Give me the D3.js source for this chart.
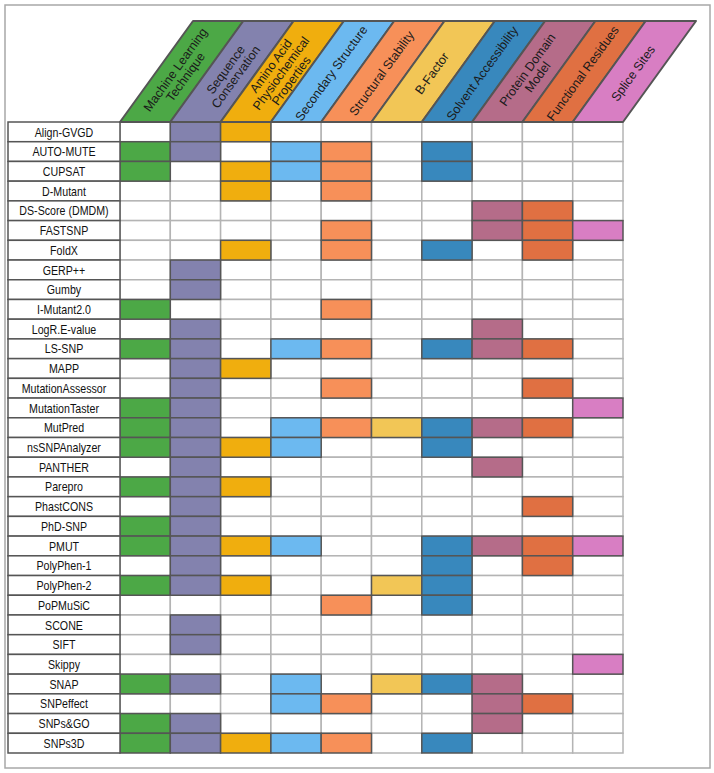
<!DOCTYPE html>
<html>
<head>
<meta charset="utf-8">
<script src="https://cdn.jsdelivr.net/npm/d3@7"></script>
<style>
  body { margin: 0; background: #fff; }
  svg text { font-family: "Liberation Sans", Arial, sans-serif; }
</style>
</head>
<body>
<div id="chart"></div>
<script>
// feature columns (header labels split in lines)
var features = ["ML", "SeqCons", "AA", "SecStruct", "StructStab", "BFactor", "SolvAcc", "Domain", "FuncRes", "Splice"];
var featureLabels = [
    ["Machine Learning", "Technique"],
    ["Sequence", "Conservation"],
    ["Amino Acid", "Physiochemical", "Properties"],
    ["Secondary Structure"],
    ["Structural Stability"],
    ["B-Factor"],
    ["Solvent Accessibility"],
    ["Protein Domain", "Model"],
    ["Functional Residues"],
    ["Splice Sites"]
];
var featureColors = ["#4ca846", "#8382ae", "#f0ae0e", "#6cb9f0", "#f79059", "#f2c656", "#3888bd", "#b56c89", "#e07042", "#d87ec3"];

var tools = ["Align-GVGD", "AUTO-MUTE", "CUPSAT", "D-Mutant", "DS-Score (DMDM)", "FASTSNP", "FoldX",
    "GERP++", "Gumby", "I-Mutant2.0", "LogR.E-value", "LS-SNP", "MAPP", "MutationAssessor",
    "MutationTaster", "MutPred", "nsSNPAnalyzer", "PANTHER", "Parepro", "PhastCONS", "PhD-SNP",
    "PMUT", "PolyPhen-1", "PolyPhen-2", "PoPMuSiC", "SCONE", "SIFT", "Skippy", "SNAP",
    "SNPeffect", "SNPs&GO", "SNPs3D"];

// which feature columns each tool uses (index into features)
var toolFeatures = [
    [1, 2],
    [0, 1, 3, 4, 6],
    [0, 2, 3, 4, 6],
    [2, 4],
    [7, 8],
    [4, 7, 8, 9],
    [2, 4, 6, 8],
    [1],
    [1],
    [0, 4],
    [1, 7],
    [0, 1, 3, 4, 6, 7, 8],
    [1, 2],
    [1, 4, 8],
    [0, 1, 9],
    [0, 1, 3, 4, 5, 6, 7, 8],
    [0, 1, 2, 3, 6],
    [1, 7],
    [0, 1, 2],
    [1, 8],
    [0, 1],
    [0, 1, 2, 3, 6, 7, 8, 9],
    [1, 6, 8],
    [0, 1, 2, 5, 6],
    [4, 6],
    [1],
    [1],
    [9],
    [0, 1, 3, 5, 6, 7],
    [3, 4, 7, 8],
    [0, 1, 7],
    [0, 1, 2, 3, 4, 6]
];

var width = 714, height = 773;
var tableTop = 122, tableBottom = 753;
var labelLeft = 8, gridLeft = 120, gridRight = 623;
var headTop = 21, slant = 73;

var svg = d3.select("#chart").append("svg")
    .attr("width", width)
    .attr("height", height);

// outer frame
svg.append("rect")
    .attr("x", 5).attr("y", 5)
    .attr("width", 705).attr("height", 763)
    .attr("fill", "#fff")
    .attr("stroke", "#a8a8a8")
    .attr("stroke-width", 1.5);

var x = d3.scaleBand().domain(features).range([gridLeft, gridRight]);
var y = d3.scaleBand().domain(tools).range([tableTop, tableBottom]);

// flatten the matrix
var cells = [];
tools.forEach(function (t, i) {
    features.forEach(function (f, j) {
        cells.push({ tool: t, feature: f, col: j, on: toolFeatures[i].indexOf(j) >= 0 });
    });
});

// empty grid
svg.append("g").selectAll("rect")
    .data(cells.filter(function (d) { return !d.on; }))
    .enter().append("rect")
    .attr("x", function (d) { return x(d.feature); })
    .attr("y", function (d) { return y(d.tool); })
    .attr("width", x.bandwidth())
    .attr("height", y.bandwidth())
    .attr("fill", "#fff")
    .attr("stroke", "#b4b4b4")
    .attr("stroke-width", 1.5);

// filled cells
svg.append("g").selectAll("rect")
    .data(cells.filter(function (d) { return d.on; }))
    .enter().append("rect")
    .attr("x", function (d) { return x(d.feature); })
    .attr("y", function (d) { return y(d.tool); })
    .attr("width", x.bandwidth())
    .attr("height", y.bandwidth())
    .attr("fill", function (d) { return featureColors[d.col]; })
    .attr("stroke", "#555")
    .attr("stroke-width", 1.5);

// row labels
var rows = svg.append("g").selectAll("g")
    .data(tools)
    .enter().append("g");

rows.append("rect")
    .attr("x", labelLeft)
    .attr("y", function (d) { return y(d); })
    .attr("width", gridLeft - labelLeft)
    .attr("height", y.bandwidth())
    .attr("fill", "#fff")
    .attr("stroke", "#555")
    .attr("stroke-width", 1.5);

// labels are a condensed face in the original, so squeeze horizontally
rows.append("text")
    .attr("transform", function (d) {
        return "translate(" + (labelLeft + gridLeft) / 2 + "," + (y(d) + y.bandwidth() / 2) + ") scale(0.82,1)";
    })
    .attr("dy", "0.36em")
    .attr("text-anchor", "middle")
    .attr("font-size", "13px")
    .attr("fill", "#111")
    .text(function (d) { return d; });

// slanted header
var heads = svg.append("g").selectAll("g")
    .data(features)
    .enter().append("g");

heads.append("polygon")
    .attr("points", function (d) {
        var x0 = x(d), x1 = x(d) + x.bandwidth();
        return [[x0, tableTop], [x0 + slant, headTop], [x1 + slant, headTop], [x1, tableTop]]
            .map(function (p) { return p.join(","); }).join(" ");
    })
    .attr("fill", function (d, i) { return featureColors[i]; })
    .attr("stroke", "#555")
    .attr("stroke-width", 2)
    .attr("stroke-linejoin", "round");

var angle = -Math.atan2(tableTop - headTop, slant) * 180 / Math.PI;

heads.append("text")
    .attr("transform", function (d) {
        var cx = x(d) + x.bandwidth() / 2 + slant / 2 - 1;
        var cy = (tableTop + headTop) / 2 + 2;
        return "translate(" + cx + "," + cy + ") rotate(" + angle + ")";
    })
    .attr("text-anchor", "middle")
    .attr("font-size", "12.5px")
    .attr("fill", "#1a1a1a")
    .each(function (d, i) {
        var lines = featureLabels[i];
        var t = d3.select(this);
        lines.forEach(function (l, k) {
            t.append("tspan")
                .attr("x", 0)
                .attr("y", (k - (lines.length - 1) / 2) * 12.5 + 4)
                .text(l);
        });
    });
</script>
</body>
</html>
